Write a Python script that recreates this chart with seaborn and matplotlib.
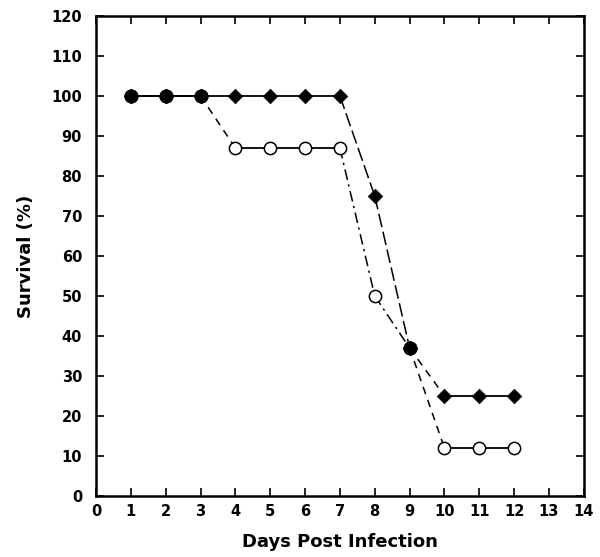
import numpy as np
import pandas as pd
import matplotlib
matplotlib.use("Agg")
import matplotlib.pyplot as plt
import seaborn as sns

days = [1, 2, 3, 4, 5, 6, 7, 8, 9, 10, 11, 12]
survival_diamond = [100, 100, 100, 100, 100, 100, 100, 75, 37, 25, 25, 25]
survival_circle = [100, 100, 100, 87, 87, 87, 87, 50, 37, 12, 12, 12]
x_ticks = list(range(0, 15))
y_ticks = list(range(0, 121, 10))

sns.set_theme(style="ticks")
plt.rcParams['font.family'] = ['DejaVu Sans']
plt.rcParams['font.weight'] = 'bold'
plt.rcParams['text.color'] = 'black'
plt.rcParams['axes.labelcolor'] = 'black'

fig = plt.figure(figsize=(6, 5.57), dpi=100)
ax = fig.add_axes([0.16, 0.1095, 0.813, 0.862])

df = pd.DataFrame({"day": days, "diamond": survival_diamond, "circle": survival_circle})

def draw_series(y, slope_style):
    for i in range(len(days) - 1):
        xs = days[i:i + 2]
        ys = y[i:i + 2]
        if ys[0] == ys[1]:
            ax.plot(xs, ys, color="black", lw=1.3, ls="-", zorder=2)
        else:
            st = slope_style(days[i])
            ax.plot(xs, ys, color="black", lw=1.1, ls=st, zorder=2)

def circ_style(d):
    if d in (7, 8):
        return (0, (7, 3, 1.5, 3))
    return (0, (5, 4))

def diam_style(d):
    if d in (7, 8):
        return (0, (9, 3))
    return (0, (5, 4))

draw_series(survival_circle, circ_style)
draw_series(survival_diamond, diam_style)

sns.scatterplot(data=df, x="day", y="circle", marker="o", s=78, facecolor="white",
                edgecolor="black", linewidth=1.1, ax=ax, zorder=3)
sns.scatterplot(data=df, x="day", y="diamond", marker="D", s=55, color="black",
                edgecolor="black", linewidth=0.5, ax=ax, zorder=4)
overlap = df[df["diamond"] == df["circle"]]
sns.scatterplot(data=overlap, x="day", y="diamond", marker="o", s=92, color="black",
                edgecolor="black", linewidth=0.5, ax=ax, zorder=5)

ax.set_xlim(0, 14)
ax.set_ylim(0, 120)
ax.set_xticks(x_ticks)
ax.set_yticks(y_ticks)
ax.tick_params(axis="both", direction="in", length=6, width=1.2, top=True, right=True,
               labeltop=False, labelright=False, labelsize=10.5, colors="black")
ax.tick_params(axis="y", pad=10)
ax.tick_params(axis="x", pad=6)
for lab in ax.get_xticklabels() + ax.get_yticklabels():
    lab.set_fontweight("bold")
for sp in ax.spines.values():
    sp.set_linewidth(1.8)
    sp.set_color("black")

ax.set_xlabel("Days Post Infection", fontsize=13, fontweight="bold", labelpad=10)
ax.set_ylabel("Survival (%)", fontsize=13, fontweight="bold", labelpad=12)

fig.savefig("out.png", dpi=100)
